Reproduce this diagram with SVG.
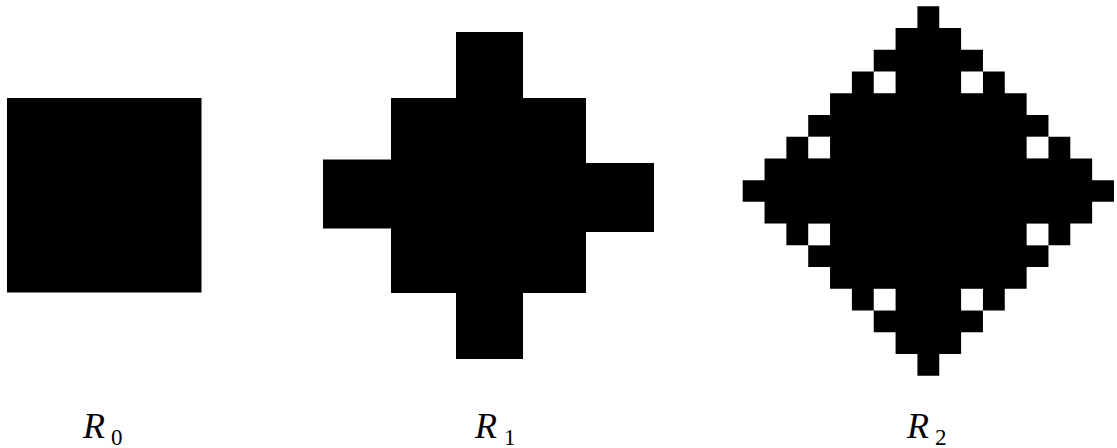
<svg xmlns="http://www.w3.org/2000/svg" width="1117" height="448" viewBox="0 0 1117 448">
  <style>
    .shape { fill: #000; stroke: none; }
    .hole { fill: #fff; stroke: none; }
    .lbl { font-family: "Liberation Serif", "Times New Roman", serif; fill: #000; }
    .main { font-style: italic; font-size: 36px; }
    .sub { font-size: 23px; }
  </style>
  <rect width="1117" height="448" fill="#fff"/>
  <g id="R0">
    <rect class="shape" x="7" y="98" width="194.5" height="194.5"/>
  </g>
  <g id="R1">
    <path class="shape" d="M456 32 H523 V98 H586 V163 H654 V232 H586 V293 H523 V359 H456 V293 H391 V228.5 H323 V159.5 H391 V98 H456 Z"/>
  </g>
  <g id="R2">
    <path class="shape" d="M917.42 6.3 h21.84 v21.73h21.84 v21.73h21.84 v21.73h21.84 v21.73h21.84 v21.73h21.84 v21.73h21.84 v21.73h21.84 v21.73h21.84 v21.73 h-21.84v21.73 h-21.84v21.73 h-21.84v21.73 h-21.84v21.73 h-21.84v21.73 h-21.84v21.73 h-21.84v21.73 h-21.84v21.73 h-21.84 v-21.73h-21.84 v-21.73h-21.84 v-21.73h-21.84 v-21.73h-21.84 v-21.73h-21.84 v-21.73h-21.84 v-21.73h-21.84 v-21.73h-21.84 v-21.73 h21.84v-21.73 h21.84v-21.73 h21.84v-21.73 h21.84v-21.73 h21.84v-21.73 h21.84v-21.73 h21.84v-21.73 h21.84v-21.73 Z"/>
    <rect class="hole" x="873.74" y="71.49" width="21.84" height="21.73"/>
    <rect class="hole" x="961.1" y="71.49" width="21.84" height="21.73"/>
    <rect class="hole" x="808.22" y="136.68" width="21.84" height="21.73"/>
    <rect class="hole" x="1026.62" y="136.68" width="21.84" height="21.73"/>
    <rect class="hole" x="808.22" y="223.6" width="21.84" height="21.73"/>
    <rect class="hole" x="1026.62" y="223.6" width="21.84" height="21.73"/>
    <rect class="hole" x="873.74" y="288.79" width="21.84" height="21.73"/>
    <rect class="hole" x="961.1" y="288.79" width="21.84" height="21.73"/>
  </g>
  <g id="labels">
    <text class="lbl main" x="83" y="438">R</text>
    <text class="lbl sub" x="111" y="445">0</text>
    <text class="lbl main" x="475" y="438">R</text>
    <text class="lbl sub" x="504" y="445">1</text>
    <text class="lbl main" x="907" y="438">R</text>
    <text class="lbl sub" x="935" y="445">2</text>
  </g>
</svg>
